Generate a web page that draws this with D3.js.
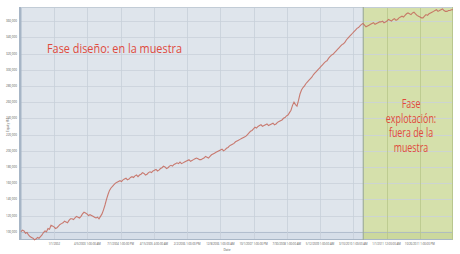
<!DOCTYPE html>
<html>
<head>
<meta charset="utf-8">
<script src="https://cdn.jsdelivr.net/npm/d3@7"></script>
<style>
  body { margin:0; background:#fff; }
  svg { display:block; font-family:'Open Sans', sans-serif; }
</style>
</head>
<body>
<script>
// equity in thousands of $ (~1.5px apart)
const equity = [100,102,101,98,99,96,94,93,92,90,91,93,92,94,96,99,101,100,104,103,108,107,106,104,105,107,109,110,111,113,112,111,114,116,116,115,117,119,118,117,
  119,122,124,123,122,120,121,120,119,118,117,118,116,119,122,127,133,140,146,151,154,156,158,160,161,162,163,162,164,165,166,164,165,167,168,167,169,170,168,170,
  171,173,172,170,171,173,174,173,175,176,177,175,176,178,179,181,180,178,179,181,182,181,183,184,185,184,186,184,185,186,187,188,189,187,188,189,190,191,190,189,
  189,190,191,193,192,191,193,195,196,197,198,199,200,201,202,200,201,203,204,206,207,208,209,211,212,213,214,215,216,217,218,220,222,224,225,227,229,228,230,231,
  232,230,231,232,233,231,232,233,234,232,233,235,236,237,238,240,241,243,244,247,250,256,260,257,255,262,270,275,278,280,283,285,287,289,291,294,296,298,300,302,
  304,306,308,310,311,314,316,318,319,321,323,325,327,329,331,332,334,337,339,341,343,345,347,349,351,352,354,356,357,355,353,354,355,356,357,358,356,357,358,359,
  359,360,358,359,360,362,361,360,362,363,361,362,364,365,366,365,367,369,370,369,368,370,371,369,367,366,365,364,364,366,368,367,369,370,371,372,373,374,372,373,
  374,375,373,372,372,373,373,374,374];
const yTicks = [100,120,140,160,180,200,220,240,260,280,300,320,340,360];
const yTickLabels = ['100,000','120,000','140,000','160,000','180,000','200,000','220,000',
  '240,000','260,000','280,000','300,000','320,000','340,000','360,000'];
const xTickLabels = ['1/1/2002','4/5/2003 1:00:00 AM','7/1/2004 1:00:00 PM','4/15/2005 4:00:00 AM',
  '2/2/2006 1:00:00 PM','12/8/2006 1:00:00 AM','10/1/2007 1:00:00 PM','7/30/2008 1:00:00 AM',
  '5/12/2009 1:00:00 AM','3/10/2010 1:00:00 AM','1/1/2011 12:00:00 AM','10/26/2011 1:00:00 PM'];
const splitUnit = 10.3;   // start of out-of-sample phase, in grid units
const gridUnits = 13;

const W = 460, H = 254;
const margin = {top:7, right:7, bottom:14, left:21};
const pw = W - margin.left - margin.right;
const ph = H - margin.top - margin.bottom;

const svg = d3.select('body').append('svg').attr('width', W).attr('height', H);
const g = svg.append('g').attr('transform', 'translate(' + margin.left + ',' + margin.top + ')');

const x = d3.scaleLinear().domain([0, gridUnits]).range([0, pw]);
const xi = d3.scaleLinear().domain([0, equity.length - 1]).range([0, pw]);
const y = d3.scaleLinear().domain([89.8, 377.4]).range([ph, 0]);

// backgrounds
g.append('rect').attr('x', 0).attr('y', 0).attr('width', x(splitUnit)).attr('height', ph)
  .attr('fill', '#dfe5ec');
g.append('rect').attr('x', x(splitUnit)).attr('y', 0).attr('width', pw - x(splitUnit)).attr('height', ph)
  .attr('fill', '#d5e0ab');
// bottom band
g.append('rect').attr('x', 0).attr('y', y(100)).attr('width', x(splitUnit)).attr('height', ph - y(100))
  .attr('fill', '#d6dee8');
g.append('rect').attr('x', x(splitUnit)).attr('y', y(100)).attr('width', pw - x(splitUnit)).attr('height', ph - y(100))
  .attr('fill', '#cbd89d');

// grid
const grid = g.append('g');
grid.selectAll('line.h').data(yTicks).enter().append('line')
  .attr('x1', 0).attr('x2', pw)
  .attr('y1', d => Math.round(y(d)) + 0.5).attr('y2', d => Math.round(y(d)) + 0.5)
  .attr('stroke', d => d === 100 ? '#a8b6c6' : '#c9d1db').attr('stroke-width', 0.8);
grid.selectAll('line.v').data(d3.range(1, gridUnits)).enter().append('line')
  .attr('x1', d => Math.round(x(d)) + 0.5).attr('x2', d => Math.round(x(d)) + 0.5)
  .attr('y1', 0).attr('y2', ph)
  .attr('stroke', d => d > splitUnit ? '#b7c68a' : '#c6cfd9').attr('stroke-width', 0.8);

// borders
g.append('rect').attr('x', -2).attr('y', 0).attr('width', 2.5).attr('height', ph).attr('fill', '#a6b5c6');
g.append('line').attr('x1', 0).attr('x2', pw).attr('y1', 0.5).attr('y2', 0.5).attr('stroke', '#c2ccd6');
g.append('line').attr('x1', 0).attr('x2', pw).attr('y1', ph - 0.5).attr('y2', ph - 0.5).attr('stroke', '#a8b6c6');
g.append('line').attr('x1', x(splitUnit)).attr('x2', x(splitUnit)).attr('y1', 0).attr('y2', ph)
  .attr('stroke', '#9fae9a').attr('stroke-width', 1.2);
g.append('line').attr('x1', pw - 0.5).attr('x2', pw - 0.5).attr('y1', 0).attr('y2', ph)
  .attr('stroke', '#b8c68e');

// equity curve
const line = d3.line().x((d, i) => xi(i)).y(d => y(d));
g.append('path').datum(equity).attr('d', line)
  .attr('fill', 'none').attr('stroke', '#c4675a').attr('stroke-width', 1.1).attr('opacity', 0.85);

// y axis labels
g.selectAll('text.yt').data(yTicks).enter().append('text')
  .attr('x', -4).attr('y', d => y(d) + 1)
  .attr('text-anchor', 'end').attr('font-size', 3).attr('fill', '#555')
  .text((d, i) => yTickLabels[i]);
svg.append('text').attr('transform', 'translate(9,125) rotate(-90)')
  .attr('text-anchor', 'middle').attr('font-size', 3.2).attr('fill', '#555').text('Equity ($)');

// x axis labels
g.selectAll('text.xt').data(xTickLabels).enter().append('text')
  .attr('x', (d, i) => x(i + 1)).attr('y', ph + 5)
  .attr('text-anchor', 'middle').attr('font-size', 2.8).attr('fill', '#555')
  .text(d => d);
svg.append('text').attr('x', 227).attr('y', 251).attr('text-anchor', 'middle')
  .attr('font-size', 3.2).attr('fill', '#555').text('Date');

// phase annotations
svg.append('text').attr('x', 47).attr('y', 53)
  .attr('font-size', 13.5).attr('fill', '#e04a3c')
  .attr('textLength', 135).attr('lengthAdjust', 'spacingAndGlyphs')
  .text('Fase diseño: en la muestra');
const outLines = ['Fase', 'explotación:', 'fuera de la', 'muestra'];
svg.append('g').attr('transform', 'translate(411,0) scale(0.74,1)')
  .selectAll('text').data(outLines).enter().append('text')
  .attr('x', 0).attr('y', (d, i) => 108 + i * 14.7)
  .attr('text-anchor', 'middle').attr('font-size', 12).attr('fill', '#e04a3c')
  .text(d => d);
</script>
</body>
</html>
